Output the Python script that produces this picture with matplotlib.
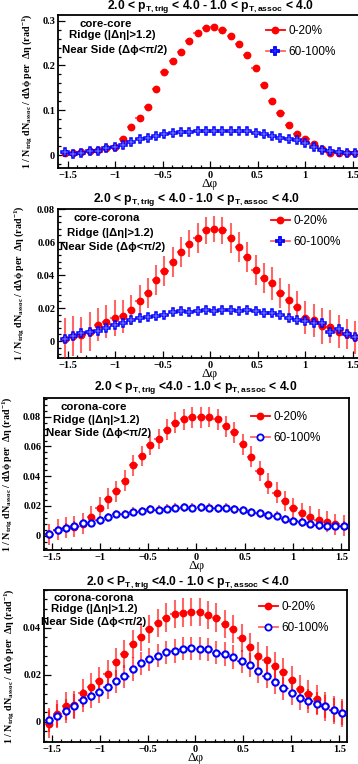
import matplotlib
matplotlib.use("Agg")
import matplotlib.pyplot as plt
from matplotlib.lines import Line2D
from matplotlib.ticker import MultipleLocator

plt.rcParams['font.family'] = ['Liberation Sans', 'DejaVu Sans']
plt.rcParams['mathtext.default'] = 'regular'

# bin centres in delta phi
dphi = [-1.527, -1.440, -1.353, -1.265, -1.178, -1.091, -1.004, -0.916, -0.829,
        -0.742, -0.654, -0.567, -0.480, -0.393, -0.305, -0.218, -0.131, -0.044,
        0.044, 0.131, 0.218, 0.305, 0.393, 0.480, 0.567, 0.654, 0.742, 0.829,
        0.916, 1.004, 1.091, 1.178, 1.265, 1.353, 1.440, 1.527]
half_bin = 0.0436

# core-core
cc_cent = [0.005, 0.004, 0.006, 0.010, 0.012, 0.016, 0.019, 0.035, 0.062, 0.082,
           0.108, 0.148, 0.186, 0.209, 0.231, 0.255, 0.272, 0.283, 0.286, 0.280,
           0.265, 0.247, 0.224, 0.194, 0.157, 0.121, 0.093, 0.066, 0.046, 0.036,
           0.025, 0.013, 0.005, 0.005, 0.004, 0.004]
cc_peri = [0.006, 0.003, 0.005, 0.008, 0.010, 0.016, 0.018, 0.023, 0.030, 0.036,
           0.039, 0.043, 0.047, 0.049, 0.051, 0.052, 0.053, 0.053, 0.054, 0.054,
           0.054, 0.054, 0.053, 0.050, 0.047, 0.043, 0.039, 0.036, 0.033, 0.027,
           0.018, 0.012, 0.008, 0.006, 0.005, 0.005]
cc_cent_err = [0.006] * 36
cc_peri_err = [0.004] * 36

# core-corona
cr_cent = [0.0012, 0.003, 0.0036, 0.0057, 0.010, 0.0117, 0.014, 0.015, 0.0186, 0.024,
           0.029, 0.037, 0.0426, 0.048, 0.054, 0.059, 0.0626, 0.067, 0.068, 0.067,
           0.0626, 0.057, 0.0507, 0.043, 0.038, 0.035, 0.029, 0.0246, 0.0206, 0.014,
           0.0125, 0.0093, 0.0085, 0.0057, 0.0044, 0.0024]
cr_peri = [0.001, 0.003, 0.005, 0.0057, 0.006, 0.008, 0.010, 0.011, 0.013, 0.014,
           0.0145, 0.015, 0.0158, 0.0176, 0.018, 0.0176, 0.018, 0.0186, 0.018, 0.0186,
           0.0186, 0.018, 0.019, 0.018, 0.017, 0.017, 0.016, 0.014, 0.0127, 0.012,
           0.0107, 0.011, 0.0053, 0.007, 0.0044, 0.0026]
cr_cent_err = [0.013, 0.012, 0.011, 0.012, 0.010, 0.010, 0.011, 0.010, 0.009, 0.010,
               0.009, 0.009, 0.009, 0.009, 0.009, 0.008, 0.009, 0.008, 0.008, 0.008,
               0.009, 0.009, 0.009, 0.009, 0.009, 0.010, 0.009, 0.010, 0.010, 0.010,
               0.010, 0.011, 0.010, 0.010, 0.009, 0.010]
cr_peri_err = [0.002] * 36

# corona-core
rc_cent = [0.001, 0.004, 0.0054, 0.006, 0.008, 0.0128, 0.0188, 0.025, 0.030, 0.037,
           0.0473, 0.0536, 0.061, 0.065, 0.0713, 0.076, 0.0784, 0.0796, 0.0796, 0.0798,
           0.0784, 0.0735, 0.0695, 0.0614, 0.053, 0.0435, 0.035, 0.029, 0.0233, 0.0184,
           0.015, 0.0128, 0.0108, 0.0094, 0.0078, 0.0067]
rc_peri = [0.001, 0.0036, 0.0054, 0.0067, 0.0083, 0.0087, 0.0105, 0.0125, 0.0146, 0.0143,
           0.016, 0.0166, 0.0177, 0.0175, 0.018, 0.0188, 0.019, 0.0188, 0.019, 0.0188,
           0.0184, 0.0188, 0.0177, 0.0172, 0.0157, 0.015, 0.0139, 0.0134, 0.0112, 0.0099,
           0.009, 0.008, 0.0072, 0.0067, 0.0067, 0.0067]
rc_cent_err = [0.007] * 36
rc_peri_err = [0.003] * 36

# corona-corona
rr_cent = [-0.0009, 0.0034, 0.0068, 0.0071, 0.0123, 0.0148, 0.0174, 0.0204, 0.0252, 0.0289,
           0.0329, 0.036, 0.0393, 0.0421, 0.0443, 0.0457, 0.0464, 0.0467, 0.0465, 0.0454,
           0.0443, 0.0416, 0.0393, 0.0357, 0.0316, 0.0281, 0.0261, 0.0238, 0.021, 0.0177,
           0.0138, 0.0116, 0.0095, 0.0065, 0.0051, 0.0038]
rr_peri = [0.0007, 0.0026, 0.0045, 0.0067, 0.0091, 0.0108, 0.0128, 0.0148, 0.0172, 0.0193,
           0.0224, 0.0248, 0.0265, 0.0281, 0.0295, 0.0301, 0.0311, 0.0312, 0.0311, 0.0308,
           0.0294, 0.0287, 0.0275, 0.0257, 0.0241, 0.0216, 0.0194, 0.017, 0.0142, 0.0122,
           0.0102, 0.0089, 0.0077, 0.0065, 0.005, 0.0037]
rr_cent_err = [0.006] * 36
rr_peri_err = [0.005] * 36

W, H = 358, 764
fig = plt.figure(figsize=(W / 100, H / 100), dpi=100)


def new_axes(l, t, r, b):
    return fig.add_axes([l / W, 1 - b / H, (r - l) / W, (b - t) / H])


def tick_fmt(v, pos):
    if abs(v) < 1e-9:
        return '0'
    return ('%g' % v).replace('-', '\u2212')


ylab = (r'1 / N$_{trig}$ dN$_{assoc}$ / d$\Delta\phi$ per  $\Delta\eta$ (rad$^{-1}$)')

panels = [
    dict(box=(58, 15, 362, 168), xlim=(-1.6, 1.6), ylim=(-0.029, 0.3127), ymaj=0.1, ymin=0.02,
         name='core-core', cent=cc_cent, peri=cc_peri, ce=cc_cent_err, pe=cc_peri_err,
         title=r'2.0 < p$_{T,trig}$ < 4.0 - 1.0 < p$_{T,assoc}$ < 4.0', ttl=(210, 7), mk='P', ylx=-0.076,
         txt=[(106, 24), (112, 35), (115, 50)], leg=(266, 25)),
    dict(box=(58, 209, 362, 358), xlim=(-1.6, 1.6), ylim=(-0.0103, 0.08), ymaj=0.02, ymin=0.004,
         name='core-corona', cent=cr_cent, peri=cr_peri, ce=cr_cent_err, pe=cr_peri_err,
         title=r'2.0 < p$_{T,trig}$ < 4.0 - 1.0 < p$_{T,assoc}$ < 4.0', ttl=(196, 200), mk='P', ylx=-0.102,
         txt=[(107, 218), (110, 233), (113, 247)], leg=(271, 215)),
    dict(box=(44, 398, 349, 550), xlim=(-1.58, 1.58), ylim=(-0.0096, 0.0926), ymaj=0.02, ymin=0.004,
         name='corona-core', cent=rc_cent, peri=rc_peri, ce=rc_cent_err, pe=rc_peri_err,
         title=r'2.0 < p$_{T,trig}$ <4.0 - 1.0 < p$_{T,assoc}$ < 4.0', ttl=(196, 388), mk='o', ylx=-0.095,
         txt=[(94, 407), (96, 420), (99, 433)], leg=(251, 411)),
    dict(box=(44, 590, 347, 742), xlim=(-1.58, 1.58), ylim=(-0.0086, 0.056), ymaj=0.02, ymin=0.004,
         name='corona-corona', cent=rr_cent, peri=rr_peri, ce=rr_cent_err, pe=rr_peri_err,
         title=r'2.0 < P$_{T,trig}$ <4.0 - 1.0 < p$_{T,assoc}$ < 4.0', ttl=(188, 582), mk='o', ylx=-0.089,
         txt=[(94, 598), (94, 609), (94, 622)], leg=(259, 601)),
]

red = '#ff0000'
blue = '#0000ff'
err_col = (1.0, 0.0, 0.0, 0.6)

for p in panels:
    l, t, r, b = p['box']
    ax = new_axes(l, t, r, b)

    ax.errorbar(dphi, p['peri'], yerr=p['pe'], xerr=half_bin, fmt='none',
                ecolor=err_col, elinewidth=1.5, capsize=0, zorder=2)
    ax.errorbar(dphi, p['cent'], yerr=p['ce'], xerr=half_bin, fmt='o', color=red,
                ecolor=err_col, elinewidth=1.5, capsize=0, markersize=4.6, zorder=3)
    if p['mk'] == 'P':
        ax.plot(dphi, p['peri'], 'P', ms=6, mfc='white', mec=blue, mew=1.1, ls='none', zorder=4)
    else:
        ax.errorbar(dphi, p['peri'], xerr=half_bin, fmt='none', ecolor=blue, elinewidth=1.0, zorder=4)
        ax.plot(dphi, p['peri'], 'o', ms=4.5, mfc='white', mec=blue, mew=1.5, ls='none', zorder=5)

    ax.set_xlim(*p['xlim'])
    ax.set_ylim(*p['ylim'])
    ax.xaxis.set_major_locator(MultipleLocator(0.5))
    ax.xaxis.set_minor_locator(MultipleLocator(0.1))
    ax.yaxis.set_major_locator(MultipleLocator(p['ymaj']))
    ax.yaxis.set_minor_locator(MultipleLocator(p['ymin']))
    ax.xaxis.set_major_formatter(plt.FuncFormatter(tick_fmt))
    ax.yaxis.set_major_formatter(plt.FuncFormatter(tick_fmt))
    ax.tick_params(which='both', direction='in', top=False, right=False, width=0.9)
    ax.tick_params(which='major', length=5, pad=2)
    ax.tick_params(which='minor', length=2.5)
    for lab in ax.get_xticklabels() + ax.get_yticklabels():
        lab.set_fontfamily('Liberation Serif')
        lab.set_fontweight('bold')
        lab.set_fontsize(7.5)
    for s in ax.spines.values():
        s.set_linewidth(1.3)

    ax.set_xlabel('Δφ', family='Liberation Serif', fontsize=9.5, labelpad=-1)
    ax.set_ylabel(ylab, family='Liberation Serif', fontweight='bold', fontsize=7.2)
    ax.yaxis.set_label_coords(p['ylx'], 0.5)

    tx, ty = p['ttl']
    fig.text(tx / W, 1 - ty / H, p['title'], fontsize=8.7, fontweight='bold',
             ha='center', va='center')

    labels = [p['name'], 'Ridge (|Δη|>1.2)', 'Near Side (Δϕ<π/2)']
    for (tx, ty), s in zip(p['txt'], labels):
        fig.text(tx / W, 1 - ty / H, s, fontsize=8.2, fontweight='bold',
                 ha='center', va='center', family=['Liberation Sans', 'DejaVu Sans'])

    hs = [Line2D([], [], color=red, lw=1.3, marker='o', ms=4.6),
          Line2D([], [], color=err_col, lw=1.3, marker=p['mk'], ms=6 if p['mk'] == 'P' else 4.5,
                 mfc='white', mec=blue, mew=1.3)]
    lx, ly = p['leg']
    ax.legend(hs, ['0-20%', '60-100%'], loc='upper left', bbox_to_anchor=(lx / W, 1 - ly / H),
              bbox_transform=fig.transFigure, frameon=False, fontsize=8.5, handlelength=1.6,
              handletextpad=0.3, labelspacing=0.75, borderpad=0, borderaxespad=0)

fig.savefig('out.png', dpi=100)
